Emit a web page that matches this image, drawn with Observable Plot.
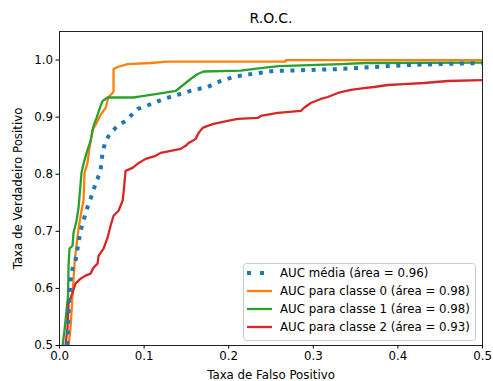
<!DOCTYPE html>
<html>
<head>
<meta charset="utf-8">
<script src="https://cdn.jsdelivr.net/npm/d3@7"></script>
<script src="https://cdn.jsdelivr.net/npm/@observablehq/plot@0.6"></script>
<style>
  body { margin: 0; background: white; }
  #wrap { position: relative; width: 493px; height: 381px; font-family: "DejaVu Sans", sans-serif; }
  #legend { position: absolute; left: 243px; top: 263px; }
</style>
</head>
<body>
<div id="wrap"></div>
<script>
// Tick values
const xTicks = [0, 0.1, 0.2, 0.3, 0.4, 0.5];
const yTicks = [0.5, 0.6, 0.7, 0.8, 0.9, 1.0];

// Legend labels
const labelMedia = "AUC média (área = 0.96)";
const label0 = "AUC para classe 0 (área = 0.98)";
const label1 = "AUC para classe 1 (área = 0.98)";
const label2 = "AUC para classe 2 (área = 0.93)";

// Average ROC (dotted)
const fprMedia = [0.0083,0.0095,0.0107,0.0130,0.0154,0.0189,0.0213,0.0249,0.0284,0.0320,0.0367,0.0426,0.0485,0.0509,0.0544,0.0604,0.0663,0.0722,0.0781,0.0864,0.0923,0.0994,0.1112,0.1231,0.1349,0.1467,0.1586,0.1751,0.1905,0.2059,0.2178,0.2533,0.2935,0.3325,0.3716,0.4118,0.4509,0.5];
const tprMedia = [0.4825,0.5087,0.5559,0.6136,0.6346,0.6486,0.6696,0.7010,0.7185,0.7378,0.7570,0.7832,0.8059,0.8374,0.8584,0.8724,0.8811,0.8881,0.8934,0.9056,0.9143,0.9178,0.9248,0.9318,0.9371,0.9423,0.9476,0.9528,0.9633,0.9703,0.9738,0.9808,0.9825,0.9843,0.9878,0.9913,0.9930,0.9948];

// Class 0
const fpr0 = [0.0083,0.0107,0.0130,0.0154,0.0178,0.0201,0.0225,0.0260,0.0284,0.0296,0.0331,0.0355,0.0391,0.0426,0.0450,0.0485,0.0544,0.0580,0.0627,0.0639,0.0639,0.0686,0.0805,0.1077,0.1278,0.2675,0.2675,0.5];
const tpr0 = [0.4913,0.5000,0.5297,0.5874,0.6451,0.6748,0.7045,0.7360,0.7535,0.8024,0.8199,0.8462,0.8776,0.8864,0.8934,0.9038,0.9161,0.9353,0.9423,0.9458,0.9843,0.9878,0.9930,0.9948,0.9974,0.9974,1.0,1.0];

// Class 1
const fpr1 = [0.0024,0.0036,0.0059,0.0083,0.0101,0.0107,0.0118,0.0154,0.0166,0.0201,0.0225,0.0237,0.0260,0.0284,0.0320,0.0367,0.0402,0.0438,0.0485,0.0509,0.0568,0.0876,0.0959,0.1231,0.1373,0.1432,0.1491,0.1550,0.1633,0.1704,0.2142,0.2379,0.2592,0.3325,0.3621,0.5];
const tpr1 = [0.4738,0.5000,0.5262,0.5612,0.5874,0.6399,0.6696,0.6748,0.6976,0.7185,0.7413,0.7622,0.8024,0.8182,0.8374,0.8584,0.8846,0.8986,0.9196,0.9283,0.9344,0.9344,0.9362,0.9423,0.9458,0.9528,0.9598,0.9668,0.9755,0.9799,0.9816,0.9860,0.9895,0.9930,0.9948,0.9956];

// Class 2
const fpr2 = [0.0059,0.0071,0.0095,0.0107,0.0154,0.0189,0.0249,0.0308,0.0367,0.0402,0.0450,0.0462,0.0521,0.0568,0.0604,0.0639,0.0698,0.0746,0.0757,0.0781,0.0864,0.0923,0.1018,0.1136,0.1195,0.1314,0.1432,0.1491,0.1527,0.1609,0.1645,0.1692,0.1751,0.1822,0.1988,0.2107,0.2343,0.2379,0.2580,0.2852,0.2888,0.2970,0.3089,0.3172,0.3290,0.3444,0.3598,0.3716,0.3882,0.4071,0.4308,0.4592,0.5];
const tpr2 = [0.4738,0.5000,0.5315,0.5734,0.5927,0.6084,0.6171,0.6224,0.6259,0.6364,0.6434,0.6573,0.6696,0.6888,0.7098,0.7273,0.7360,0.7535,0.7675,0.8059,0.8112,0.8182,0.8269,0.8322,0.8374,0.8409,0.8444,0.8497,0.8549,0.8619,0.8724,0.8811,0.8846,0.8881,0.8934,0.8969,0.8986,0.9021,0.9073,0.9108,0.9161,0.9248,0.9318,0.9353,0.9423,0.9476,0.9510,0.9528,0.9563,0.9580,0.9598,0.9633,0.9650];

const colors = {media: "#1f77b4", c0: "#ff7f0e", c1: "#2ca02c", c2: "#d62728"};

const toRows = (xs, ys, s) => xs.map((x, i) => ({fpr: x, tpr: ys[i], s}));
const media = toRows(fprMedia, tprMedia, "media");
const solid = [
  ...toRows(fpr0, tpr0, "c0"),
  ...toRows(fpr1, tpr1, "c1"),
  ...toRows(fpr2, tpr2, "c2")
];

const fmt = d3.format(".1f");

const chart = Plot.plot({
  width: 493,
  height: 381,
  marginLeft: 59,
  marginRight: 11,
  marginTop: 31,
  marginBottom: 36,
  style: {fontFamily: "DejaVu Sans", fontSize: "11.8px", color: "black", background: "white"},
  x: {domain: [0, 0.5]},
  y: {domain: [0.5, 1.05]},
  marks: [
    Plot.line(solid, {x: "fpr", y: "tpr", z: "s", stroke: d => colors[d.s], strokeWidth: 2.3, clip: true}),
    Plot.line(media, {x: "fpr", y: "tpr", stroke: colors.media, strokeWidth: 4, strokeDasharray: "4,6.6", strokeLinecap: "butt", clip: true}),
    Plot.frame({stroke: "#222", strokeWidth: 1}),
    Plot.axisX({ticks: xTicks, tickFormat: fmt, tickSize: 3.5, tickPadding: 3, fontSize: 11.8, label: "Taxa de Falso Positivo", labelAnchor: "center", labelArrow: "none", labelOffset: 33}),
    Plot.axisY({ticks: yTicks, tickFormat: fmt, tickSize: 3.5, tickPadding: 3, fontSize: 11.8, label: "Taxa de Verdadeiro Positivo", labelAnchor: "center", labelArrow: "none", labelOffset: 46}),
    Plot.text(["R.O.C."], {frameAnchor: "top", dy: -13, fontSize: 14, lineAnchor: "middle"})
  ]
});

const wrap = document.getElementById("wrap");
wrap.appendChild(chart);

// Legend
const entries = [
  {label: labelMedia, color: colors.media, dotted: true},
  {label: label0, color: colors.c0},
  {label: label1, color: colors.c1},
  {label: label2, color: colors.c2}
];
const ns = "http://www.w3.org/2000/svg";
const leg = document.createElementNS(ns, "svg");
leg.setAttribute("id", "legend");
leg.setAttribute("width", 234);
leg.setAttribute("height", 78);
const box = document.createElementNS(ns, "rect");
box.setAttribute("x", 0.5); box.setAttribute("y", 0.5);
box.setAttribute("width", 232); box.setAttribute("height", 77);
box.setAttribute("rx", 3);
box.setAttribute("fill", "rgba(255,255,255,0.8)");
box.setAttribute("stroke", "#cccccc");
leg.appendChild(box);
entries.forEach((e, i) => {
  const cy = 10 + i * 18;
  const ln = document.createElementNS(ns, "line");
  ln.setAttribute("x1", 4); ln.setAttribute("x2", 29);
  ln.setAttribute("y1", cy); ln.setAttribute("y2", cy);
  ln.setAttribute("stroke", e.color);
  if (e.dotted) {
    ln.setAttribute("stroke-width", 4);
    ln.setAttribute("stroke-dasharray", "4,9");
  } else {
    ln.setAttribute("stroke-width", 2.3);
  }
  leg.appendChild(ln);
  const t = document.createElementNS(ns, "text");
  t.setAttribute("x", 37);
  t.setAttribute("y", cy);
  t.setAttribute("dy", "0.35em");
  t.setAttribute("font-family", "DejaVu Sans");
  t.setAttribute("font-size", "11.8px");
  t.setAttribute("fill", "black");
  t.textContent = e.label;
  leg.appendChild(t);
});
wrap.appendChild(leg);
</script>
</body>
</html>
